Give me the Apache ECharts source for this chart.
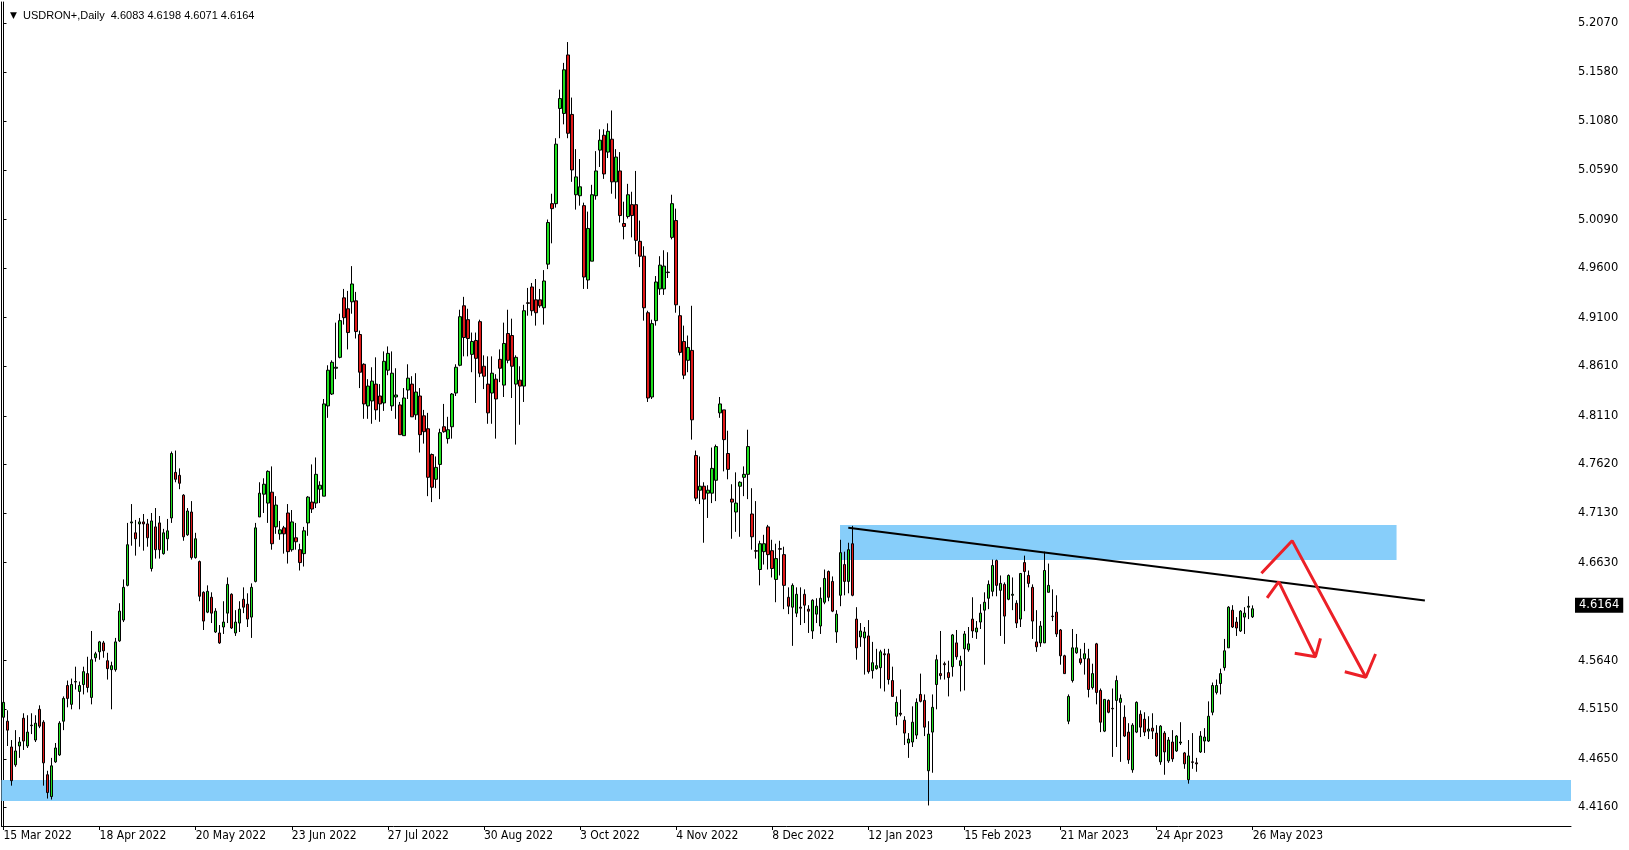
<!DOCTYPE html>
<html><head><meta charset="utf-8">
<script src="https://cdn.jsdelivr.net/npm/echarts@6/dist/echarts.min.js"></script>
<style>html,body{margin:0;padding:0;background:#fff}#c{width:1629px;height:850px}</style>
</head><body><div id="c"></div>
<script>
const symbolName = 'USDRON+,Daily';
const dateLabels = ['15 Mar 2022','18 Apr 2022','20 May 2022','23 Jun 2022','27 Jul 2022','30 Aug 2022','3 Oct 2022','4 Nov 2022','8 Dec 2022','12 Jan 2023','15 Feb 2023','21 Mar 2023','24 Apr 2023','26 May 2023'];
const labelEvery = 24;
const priceTicks = [5.2070,5.1580,5.1080,5.0590,5.0090,4.9600,4.9100,4.8610,4.8110,4.7620,4.7130,4.6630,4.5640,4.5150,4.4650,4.4160];
const slots = 392;

const opens = [4.507,4.503,4.477,4.459,4.478,4.506,4.478,4.499,4.484,4.515,4.502,4.449,4.427,4.462,4.469,4.503,4.539,4.520,4.543,4.533,4.540,4.551,4.527,4.567,4.573,4.582,4.564,4.555,4.555,4.584,
4.605,4.640,4.703,4.693,4.702,4.704,4.702,4.657,4.699,4.703,4.672,4.687,4.708,4.754,4.751,4.731,4.691,4.714,4.668,4.664,4.633,4.613,4.628,4.593,4.592,4.598,4.612,4.631,4.592,4.602,
4.626,4.621,4.608,4.644,4.709,4.732,4.723,4.734,4.699,4.692,4.698,4.713,4.676,4.688,4.676,4.672,4.703,4.724,4.723,4.737,4.730,4.821,4.833,4.859,4.870,4.930,4.919,4.926,4.927,4.893,
4.863,4.821,4.826,4.843,4.831,4.824,4.857,4.821,4.830,4.822,4.791,4.837,4.843,4.812,4.831,4.811,4.798,4.772,4.747,4.762,4.800,4.788,4.800,4.834,4.862,4.922,4.908,4.873,4.887,4.906,
4.861,4.843,4.834,4.848,4.868,4.842,4.894,4.892,4.843,4.847,4.841,4.925,4.941,4.928,4.928,4.920,4.964,5.025,5.025,5.121,5.116,5.175,5.115,5.034,5.033,5.023,4.948,4.967,5.033,5.079,
5.094,5.077,5.090,5.047,5.058,5.005,5.012,5.024,5.024,4.987,4.972,4.915,4.830,4.907,4.939,4.939,4.956,4.991,5.008,4.912,4.886,4.867,4.877,4.771,4.736,4.740,4.733,4.733,4.746,4.814,
4.817,4.773,4.727,4.714,4.740,4.749,4.752,4.712,4.675,4.656,4.674,4.699,4.675,4.646,4.677,4.671,4.628,4.618,4.612,4.618,4.631,4.616,4.594,4.611,4.599,4.623,4.654,4.644,4.593,4.630,
4.661,4.644,4.682,4.606,4.588,4.587,4.589,4.554,4.556,4.557,4.571,4.571,4.544,4.508,4.511,4.504,4.481,4.482,4.489,4.530,4.524,4.453,4.492,4.540,4.551,4.561,4.552,4.558,4.582,4.559,
4.576,4.575,4.606,4.593,4.603,4.615,4.627,4.634,4.665,4.635,4.641,4.626,4.630,4.622,4.606,4.663,4.650,4.638,4.583,4.582,4.582,4.633,4.609,4.613,4.595,4.569,4.503,4.544,4.572,4.566,
4.566,4.566,4.537,4.581,4.534,4.493,4.524,4.516,4.524,4.522,4.507,4.492,4.454,4.492,4.510,4.505,4.493,4.496,4.491,4.462,4.491,4.463,4.482,4.473,4.481,4.471,4.444,4.462,4.461,4.472,
4.483,4.483,4.512,4.532,4.541,4.557,4.577,4.615,4.603,4.594,4.608,4.618,4.6083];

const highs = [4.522,4.514,4.484,4.494,4.487,4.511,4.509,4.511,4.509,4.519,4.504,4.453,4.466,4.481,4.503,4.528,4.544,4.546,4.558,4.543,4.558,4.568,4.594,4.573,4.584,4.584,4.572,4.563,4.587,4.622,
4.646,4.703,4.722,4.706,4.708,4.712,4.707,4.713,4.718,4.710,4.697,4.707,4.775,4.776,4.758,4.732,4.718,4.725,4.693,4.665,4.634,4.640,4.633,4.617,4.600,4.624,4.648,4.632,4.615,4.624,
4.638,4.632,4.642,4.703,4.744,4.748,4.756,4.760,4.730,4.705,4.700,4.722,4.716,4.703,4.682,4.699,4.730,4.762,4.769,4.745,4.828,4.862,4.867,4.905,4.914,4.939,4.937,4.962,4.936,4.897,
4.864,4.848,4.860,4.870,4.843,4.876,4.881,4.876,4.859,4.825,4.839,4.863,4.851,4.854,4.839,4.817,4.814,4.773,4.770,4.798,4.823,4.810,4.834,4.863,4.918,4.931,4.919,4.895,4.895,4.908,
4.872,4.871,4.871,4.853,4.878,4.905,4.918,4.909,4.872,4.861,4.923,4.940,4.945,4.949,4.939,4.958,5.009,5.035,5.091,5.140,5.167,5.188,5.132,5.080,5.070,5.026,5.017,5.044,5.078,5.100,
5.100,5.106,5.119,5.080,5.077,5.027,5.045,5.037,5.058,5.008,4.982,4.917,4.908,4.952,4.972,4.978,4.976,5.034,5.020,4.922,4.902,4.892,4.922,4.776,4.770,4.744,4.741,4.779,4.782,4.830,
4.817,4.796,4.742,4.754,4.745,4.760,4.797,4.738,4.725,4.685,4.691,4.701,4.686,4.682,4.685,4.679,4.638,4.642,4.638,4.638,4.636,4.620,4.626,4.627,4.638,4.656,4.655,4.649,4.615,4.686,
4.674,4.683,4.700,4.618,4.602,4.598,4.605,4.583,4.576,4.575,4.576,4.576,4.558,4.528,4.535,4.508,4.491,4.518,4.526,4.551,4.530,4.503,4.530,4.570,4.594,4.563,4.564,4.591,4.595,4.569,
4.594,4.598,4.628,4.604,4.621,4.633,4.645,4.666,4.666,4.650,4.643,4.651,4.648,4.625,4.652,4.670,4.655,4.641,4.615,4.604,4.674,4.662,4.636,4.630,4.596,4.570,4.530,4.596,4.591,4.576,
4.582,4.576,4.561,4.582,4.536,4.525,4.525,4.536,4.549,4.530,4.519,4.501,4.501,4.523,4.514,4.512,4.508,4.511,4.499,4.499,4.493,4.487,4.494,4.489,4.502,4.472,4.484,4.491,4.466,4.493,
4.496,4.523,4.542,4.545,4.556,4.586,4.619,4.620,4.608,4.615,4.618,4.629,4.6198];

const lows = [4.487,4.478,4.438,4.457,4.466,4.474,4.476,4.490,4.482,4.496,4.438,4.425,4.424,4.461,4.468,4.494,4.517,4.515,4.535,4.515,4.530,4.532,4.520,4.563,4.565,4.567,4.545,4.515,4.553,4.583,
4.603,4.639,4.680,4.670,4.679,4.675,4.679,4.654,4.667,4.667,4.671,4.675,4.703,4.744,4.737,4.685,4.690,4.666,4.667,4.624,4.595,4.612,4.602,4.592,4.581,4.591,4.602,4.596,4.589,4.593,
4.612,4.598,4.587,4.643,4.709,4.713,4.703,4.676,4.692,4.686,4.672,4.662,4.674,4.676,4.655,4.659,4.690,4.713,4.718,4.723,4.730,4.809,4.832,4.848,4.869,4.903,4.878,4.914,4.889,4.839,
4.808,4.808,4.803,4.807,4.805,4.816,4.852,4.816,4.808,4.792,4.791,4.828,4.810,4.807,4.774,4.783,4.730,4.724,4.738,4.727,4.794,4.783,4.788,4.831,4.861,4.871,4.871,4.855,4.824,4.850,
4.838,4.803,4.803,4.788,4.845,4.830,4.864,4.829,4.782,4.802,4.825,4.912,4.912,4.902,4.920,4.903,4.959,4.985,5.021,5.091,5.105,5.091,5.047,5.019,5.023,4.939,4.939,4.967,5.029,5.062,
5.050,5.071,5.035,5.030,5.006,4.989,5.010,4.991,4.974,4.961,4.907,4.825,4.828,4.902,4.933,4.933,4.950,4.989,4.915,4.872,4.848,4.855,4.787,4.725,4.722,4.683,4.708,4.723,4.725,4.809,
4.755,4.747,4.687,4.694,4.689,4.730,4.727,4.676,4.667,4.640,4.661,4.656,4.648,4.623,4.650,4.616,4.611,4.579,4.608,4.600,4.602,4.592,4.586,4.602,4.591,4.621,4.624,4.613,4.582,4.619,
4.630,4.632,4.629,4.565,4.578,4.550,4.551,4.546,4.555,4.536,4.533,4.540,4.528,4.499,4.508,4.479,4.466,4.477,4.485,4.522,4.488,4.418,4.451,4.515,4.545,4.545,4.528,4.548,4.565,4.533,
4.534,4.573,4.587,4.586,4.596,4.560,4.616,4.629,4.629,4.589,4.581,4.625,4.615,4.597,4.598,4.614,4.638,4.586,4.573,4.578,4.582,4.633,4.604,4.588,4.560,4.551,4.500,4.542,4.571,4.560,
4.550,4.527,4.535,4.520,4.492,4.492,4.511,4.467,4.477,4.462,4.487,4.460,4.451,4.491,4.487,4.488,4.485,4.485,4.467,4.459,4.449,4.461,4.462,4.472,4.479,4.455,4.440,4.455,4.452,4.471,
4.471,4.482,4.509,4.530,4.530,4.554,4.577,4.597,4.589,4.593,4.591,4.606,4.6071];

const closes = [4.522,4.494,4.443,4.473,4.482,4.483,4.492,4.4985,4.501,4.498,4.461,4.431,4.458,4.476,4.501,4.526,4.526,4.540,4.5425,4.539,4.553,4.537,4.565,4.571,4.583,4.574,4.556,4.559,4.583,4.614,
4.638,4.681,4.704,4.687,4.704,4.702,4.688,4.705,4.676,4.676,4.693,4.695,4.773,4.747,4.743,4.689,4.715,4.668,4.687,4.629,4.604,4.634,4.612,4.614,4.582,4.603,4.641,4.597,4.603,4.616,
4.618,4.606,4.638,4.698,4.733,4.742,4.755,4.682,4.721,4.696,4.692,4.674,4.704,4.684,4.663,4.695,4.729,4.717,4.752,4.741,4.823,4.857,4.865,4.860,4.907,4.910,4.895,4.944,4.896,4.855,
4.823,4.841,4.846,4.817,4.823,4.866,4.874,4.854,4.832,4.792,4.829,4.849,4.810,4.835,4.792,4.795,4.749,4.739,4.759,4.794,4.795,4.797,4.833,4.860,4.911,4.890,4.889,4.886,4.869,4.854,
4.851,4.814,4.854,4.828,4.859,4.884,4.867,4.861,4.870,4.841,4.917,4.9245,4.917,4.915,4.922,4.947,5.006,5.020,5.085,5.131,5.160,5.096,5.059,5.052,5.042,4.951,5.000,5.034,5.058,5.089,
5.055,5.098,5.047,5.072,5.013,5.002,5.034,5.013,4.988,4.972,4.920,4.829,4.904,4.946,4.963,4.962,4.9555,5.025,4.923,4.875,4.852,4.880,4.807,4.728,4.740,4.727,4.736,4.758,4.780,4.823,
4.787,4.757,4.724,4.723,4.744,4.752,4.780,4.689,4.6745,4.682,4.682,4.671,4.657,4.667,4.6765,4.640,4.619,4.640,4.631,4.617,4.620,4.614,4.625,4.619,4.627,4.647,4.628,4.614,4.611,4.673,
4.644,4.676,4.630,4.577,4.594,4.593,4.553,4.562,4.559,4.573,4.570,4.545,4.528,4.522,4.510,4.491,4.485,4.502,4.522,4.523,4.497,4.490,4.517,4.565,4.549,4.560,4.547,4.590,4.568,4.564,
4.591,4.581,4.594,4.597,4.612,4.623,4.641,4.660,4.640,4.642,4.609,4.650,4.631,4.602,4.652,4.654,4.642,4.604,4.578,4.599,4.655,4.640,4.6085,4.591,4.569,4.551,4.528,4.577,4.577,4.562,
4.571,4.535,4.551,4.532,4.502,4.525,4.512,4.5155,4.544,4.526,4.488,4.464,4.499,4.522,4.497,4.492,4.495,4.493,4.468,4.498,4.472,4.484,4.465,4.488,4.482,4.460,4.468,4.4615,4.460,4.488,
4.487,4.508,4.539,4.539,4.551,4.574,4.618,4.598,4.597,4.614,4.612,4.619,4.6164];

const supportZone = { from: -0.5, to: 391.5, low: 4.4225, high: 4.4437 };
const resistanceZone = { from: 208.93, to: 347.93, low: 4.6656, high: 4.7009 };
const trendLine = [[211.0, 4.6982], [355.0, 4.6247]];
const arrowLong = [[314.18, 4.6522], [321.85, 4.6851], [340.25, 4.5473]];
const arrowLongHead = [[335.0, 4.5529], [340.25, 4.5473], [342.68, 4.5708]];
const arrowShort = [[315.6, 4.6273], [318.5, 4.6437], [327.68, 4.5681]];
const arrowShortHead = [[322.5, 4.5715], [327.68, 4.5681], [328.93, 4.5866]];

const n = opens.length;
const cats = Array.from({length: slots}, (_, i) => String(i));
const candleData = opens.map((o, i) => [o, closes[i], lows[i], highs[i]]);
const showTick = (i) => i % labelEvery === 0 && (i / labelEvery) < dateLabels.length;
const last = n - 1;
const headerText = symbolName + '  ' + [opens[last], highs[last], lows[last], closes[last]].map(v => v.toFixed(4)).join(' ');
const yMin = 4.3973, yMax = 5.2284;

const chart = echarts.init(document.getElementById('c'), null, {renderer: 'canvas'});
const redLine = { color: '#ec2027', width: 3 };
chart.setOption({
  animation: false,
  backgroundColor: '#ffffff',
  title: {
    text: '{tri|▼}  ' + headerText,
    left: 5, top: 5,
    textStyle: { fontFamily: 'Liberation Sans', fontSize: 11, fontWeight: 'normal', color: '#000',
      rich: { tri: { fontSize: 9, color: '#000', fontFamily: 'DejaVu Sans' } } }
  },
  grid: { left: 1.5, right: 58, top: 2, bottom: 24, containLabel: false },
  xAxis: [{
    type: 'category', data: cats, boundaryGap: true,
    axisLine: { show: true, lineStyle: { color: '#000', width: 1 } },
    axisTick: { show: true, alignWithLabel: true, interval: showTick, length: 4, lineStyle: { color: '#000' } },
    axisLabel: { interval: showTick, formatter: (v, i) => dateLabels[i / labelEvery] || '', align: 'left', margin: 4,
      fontFamily: 'Liberation Sans Narrow, DejaVu Sans Condensed, sans-serif', fontSize: 12, color: '#000' },
    splitLine: { show: false }
  }, {
    type: 'value', min: -0.5, max: slots - 0.5, show: false
  }],
  yAxis: [{
    type: 'value', position: 'right', min: yMin, max: yMax,
    axisLine: { show: true, lineStyle: { color: '#000' } },
    axisTick: { show: true, customValues: priceTicks, length: 3, lineStyle: { color: '#000' } },
    axisLabel: { customValues: priceTicks, formatter: v => v.toFixed(4), margin: 7,
      fontFamily: 'DejaVu Sans', fontSize: 11.5, color: '#000' },
    splitLine: { show: false }
  }, {
    type: 'value', position: 'left', min: yMin, max: yMax,
    axisLine: { show: true, onZero: false, lineStyle: { color: '#000' } },
    axisTick: { show: false }, axisLabel: { show: false }, splitLine: { show: false }
  }],
  series: [{
    type: 'line', xAxisIndex: 1, yAxisIndex: 0, data: [], z: 1, silent: true,
    markArea: {
      silent: true,
      itemStyle: { color: '#87cefa', opacity: 1 },
      data: [
        [{ xAxis: supportZone.from, yAxis: supportZone.high }, { xAxis: supportZone.to, yAxis: supportZone.low }],
        [{ xAxis: resistanceZone.from, yAxis: resistanceZone.high }, { xAxis: resistanceZone.to, yAxis: resistanceZone.low }]
      ]
    }
  }, {
    type: 'candlestick', xAxisIndex: 0, yAxisIndex: 0, data: candleData, z: 3,
    barWidth: 3,
    itemStyle: { color: '#1fe01f', color0: '#e01818', borderColor: '#000', borderColor0: '#000', borderWidth: 1 },
    markLine: {
      silent: true, symbol: ['none', 'none'],
      lineStyle: { color: 'rgba(0,0,0,0)', width: 0 },
      label: { show: true, position: 'end', formatter: () => closes[last].toFixed(4), distance: 4,
        backgroundColor: '#000', color: '#fff', padding: [2, 4, 1, 4],
        fontFamily: 'DejaVu Sans', fontSize: 11.5 },
      data: [{ yAxis: closes[last] }]
    }
  }, {
    type: 'line', xAxisIndex: 1, data: trendLine, symbol: 'none', z: 4, silent: true,
    lineStyle: { color: '#000', width: 2 }
  }, {
    type: 'line', xAxisIndex: 1, data: arrowLong, symbol: 'none', z: 5, silent: true, lineStyle: redLine
  }, {
    type: 'line', xAxisIndex: 1, data: arrowLongHead, symbol: 'none', z: 5, silent: true, lineStyle: redLine
  }, {
    type: 'line', xAxisIndex: 1, data: arrowShort, symbol: 'none', z: 5, silent: true, lineStyle: redLine
  }, {
    type: 'line', xAxisIndex: 1, data: arrowShortHead, symbol: 'none', z: 5, silent: true, lineStyle: redLine
  }]
});
</script></body></html>
